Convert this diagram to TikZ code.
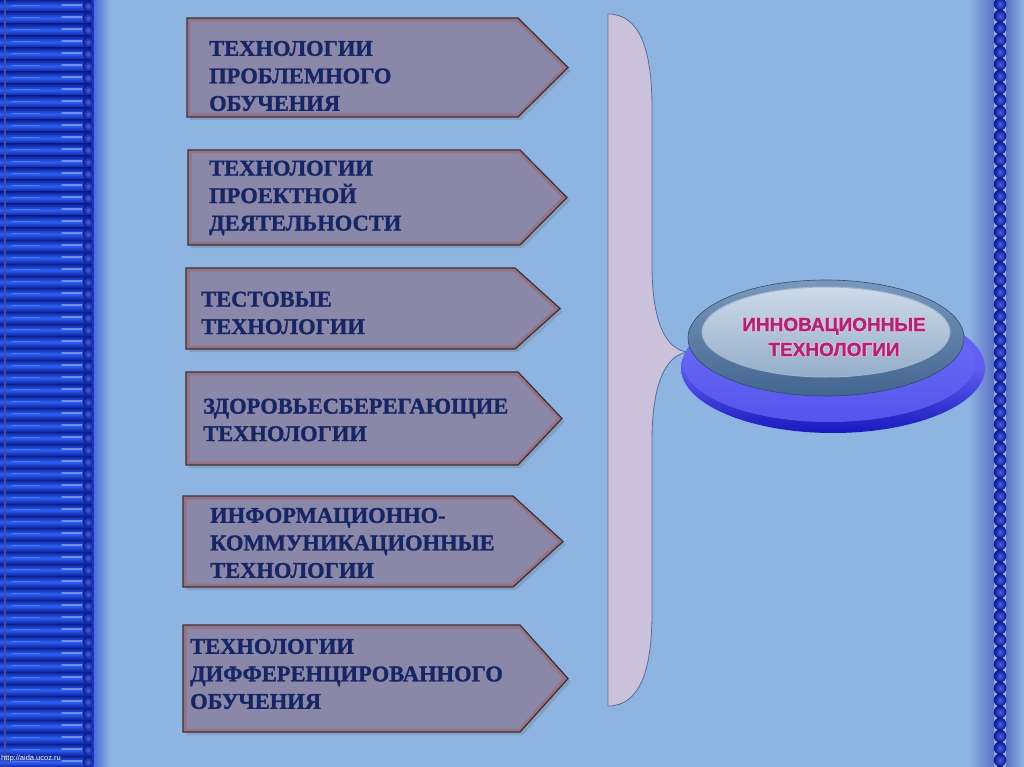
\documentclass[tikz,border=0pt]{standalone}
\usepackage{fontspec}
\setmainfont{Liberation Serif}[BoldFeatures={FakeBold=1.3}]
\newfontfamily\sansb{Liberation Sans}[BoldFeatures={FakeBold=1.2}]
\definecolor{bg}{RGB}{142,180,226}
\definecolor{stripbase}{RGB}{25,60,215}
\definecolor{stripdark}{RGB}{12,32,150}
\definecolor{striplight}{RGB}{45,95,245}
\definecolor{striphl}{RGB}{140,175,235}
\definecolor{beadc}{RGB}{35,70,225}
\definecolor{beaddark}{RGB}{10,25,140}
\definecolor{boxfill}{RGB}{139,135,168}
\definecolor{boxedge}{RGB}{60,45,55}
\definecolor{boxbevel}{RGB}{150,115,130}
\definecolor{boxtxt}{RGB}{22,38,100}
\definecolor{brfill}{RGB}{204,193,218}
\definecolor{bredge}{RGB}{80,110,160}
\definecolor{basetop}{RGB}{105,105,250}
\definecolor{basebot}{RGB}{25,25,190}
\definecolor{discouter}{RGB}{78,118,168}
\definecolor{discinner}{RGB}{165,187,210}
\definecolor{disclight}{RGB}{205,218,232}
\definecolor{pinktxt}{RGB}{170,40,115}
\definecolor{glowc}{RGB}{235,190,220}
\newcommand\glowline[1]{\leavevmode\rlap{\color{glowc}\hspace{-1pt}#1}\rlap{\color{glowc}\hspace{1pt}#1}\rlap{\color{glowc}\raisebox{1pt}{#1}}\rlap{\color{glowc}\raisebox{-1pt}{#1}}{\color{pinktxt}#1}}
\tikzset{
  boxbody/.style={fill=boxfill},
  boxbev/.style={draw=boxbevel, line width=3pt, line join=miter},
  boxline/.style={draw=boxedge, line width=1.2pt, line join=miter},
  boxtext/.style={font=\fontsize{22.5}{27.5}\selectfont\bfseries, text=boxtxt, align=left, inner sep=0pt, anchor=west},
  bead/.style={inner color=beadc!85!white, outer color=beaddark},
}
% name, x0, y0, y1, xb, xt, textx, texty, text
\newcommand\abox[9]{%
  \fill[black!55, opacity=0.3] (#2+3,#3+3) -- (#5+3,#3+3) -- (#6+3,{(#3+#4)/2+3}) -- (#5+3,#4+3) -- (#2+3,#4+3) -- cycle;
  \fill[boxbody] (#2,#3) -- (#5,#3) -- (#6,{(#3+#4)/2}) -- (#5,#4) -- (#2,#4) -- cycle;
  \draw[boxbev] (#2+2,#3+2) -- (#5-0.5,#3+2) -- (#6-3,{(#3+#4)/2}) -- (#5-0.5,#4-2) -- (#2+2,#4-2) -- cycle;
  \draw[boxline] (#2,#3) -- (#5,#3) -- (#6,{(#3+#4)/2}) -- (#5,#4) -- (#2,#4) -- cycle;
  \node[boxtext] (#1) at (#7,#8) {#9};
}
\begin{document}
\begin{tikzpicture}[x=1pt,y=-1pt]
\useasboundingbox (0,0) rectangle (1024,767);
\fill[bg] (0,0) rectangle (1024,767);
% left strip
\fill[stripbase] (0,0) rectangle (96,767);
\foreach \i in {0,...,64} {
  \pgfmathsetmacro\yy{\i*12}
  \shade[top color=stripdark, bottom color=stripdark, middle color=striplight] (0,\yy) rectangle (92,\yy+12);
  \draw[striphl, line width=1.4pt, line cap=round, opacity=0.7] (62,\yy+5) -- (82,\yy+5);
  \draw[striplight!60!white, line width=0.8pt, opacity=0.5] (12,\yy+5) -- (40,\yy+5);
  \shade[bead] (88,\yy+6) circle (5.5);
}
\shade[left color=stripbase!60!bg, right color=bg] (94,0) rectangle (110,767);
\draw[stripdark!80, line width=1.2pt] (5,0) -- (5,767);
\node[font=\fontsize{7.5}{8}\selectfont\sansb, text=white, anchor=west, inner sep=0pt] (url) at (1,759) {http://aida.ucoz.ru};
% right strip
\shade[left color=bg, right color=bg!75!blue!85!black] (968,0) rectangle (994,767);
\shade[left color=bg!75!blue!85!black, right color=bg] (1006,0) rectangle (1024,767);
\foreach \i in {0,...,64} {
  \pgfmathsetmacro\yy{\i*12+4}
  \shade[bead] (1000,\yy) circle (6.3);
}
% boxes
\abox{b1}{187}{18}{117}{518}{568}{209}{76}{ТЕХНОЛОГИИ\\ПРОБЛЕМНОГО\\ОБУЧЕНИЯ}
\abox{b2}{188}{150}{245}{520}{567}{209}{198}{ТЕХНОЛОГИИ\\ПРОЕКТНОЙ\\ДЕЯТЕЛЬНОСТИ}
\abox{b3}{186}{268}{349}{515}{560}{201}{313}{ТЕСТОВЫЕ\\ТЕХНОЛОГИИ}
\abox{b4}{186}{372}{465}{518}{562}{203}{420}{ЗДОРОВЬЕСБЕРЕГАЮЩИЕ\\ТЕХНОЛОГИИ}
\abox{b5}{183}{496}{587}{513}{563}{210}{543}{ИНФОРМАЦИОННО-\\КОММУНИКАЦИОННЫЕ\\ТЕХНОЛОГИИ}
\abox{b6}{183}{625}{732}{520}{568}{190}{674}{ТЕХНОЛОГИИ\\ДИФФЕРЕНЦИРОВАННОГО\\ОБУЧЕНИЯ}
% ellipse base
\shade[top color=basetop, bottom color=basebot, middle color=basetop!85!basebot] (833,368) ellipse (152 and 65);
\shade[top color=basetop!95!white, bottom color=basetop!75!basebot] (829,363) ellipse (146 and 59);
% bracket
\coordinate (tip) at (688,352);
\filldraw[fill=brfill, draw=bredge, line width=0.8pt]
  (608,14) .. controls (640,14) and (652,50) .. (652,108)
  -- (652,265) .. controls (652,320) and (665,350) .. (tip)
  .. controls (665,355) and (652,385) .. (652,441)
  -- (652,613) .. controls (652,670) and (640,706) .. (608,706) -- cycle;
% disc
\shade[top color=discouter!75!white, bottom color=discouter!85!black] (826,338) ellipse (138 and 58);
\draw[discouter!65!black, line width=0.6pt] (826,338) ellipse (138 and 58);
\shade[top color=disclight, bottom color=discinner!80!discouter] (826,332) ellipse (124 and 45);
\draw[discouter!55!white, line width=1pt] (826,332) ellipse (124 and 45);
\node[font=\fontsize{19}{25}\selectfont\sansb\bfseries, align=center, inner sep=0pt] (innov) at (834,337) {\glowline{ИННОВАЦИОННЫЕ}\\\glowline{ТЕХНОЛОГИИ}};
\end{tikzpicture}
\end{document}
